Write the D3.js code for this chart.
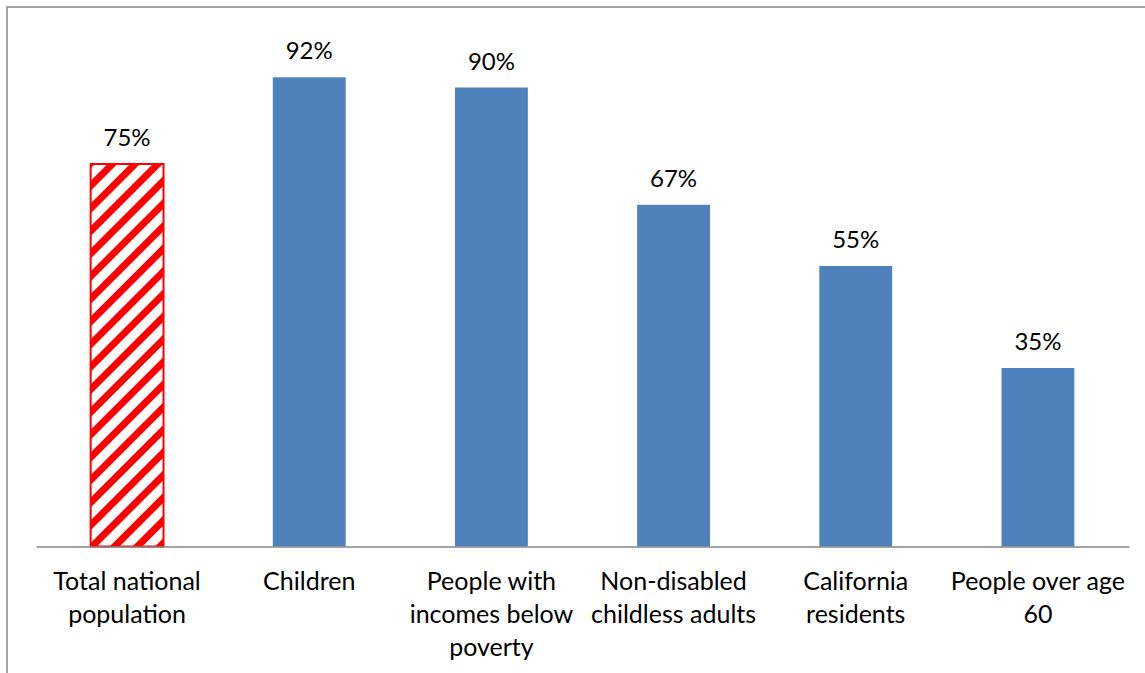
<!DOCTYPE html>
<html>
<head>
<meta charset="utf-8">
<script src="https://cdn.jsdelivr.net/npm/d3@7"></script>
<style>
  body { margin: 0; background: #fff; }
  svg { display: block; }
</style>
</head>
<body>
<div id="chart"></div>
<script>
// data
var categories = ["Total national population", "Children", "People with incomes below poverty",
  "Non-disabled childless adults", "California residents", "People over age 60"];
var tickLines = [
  ["Total national", "population"],
  ["Children"],
  ["People with", "incomes below", "poverty"],
  ["Non-disabled", "childless adults"],
  ["California", "residents"],
  ["People over age", "60"]
];
var values = [75, 92, 90, 67, 55, 35];
var hatched = [true, false, false, false, false, false];

const width = 1145
const height = 673
const fontFam = "Lato, 'Open Sans', sans-serif"

const svg = d3.select("#chart")
  .append("svg")
  .attr("width", width)
  .attr("height", height)

// hatch pattern for the total bar
const defs = svg.append("defs")
defs.append("pattern")
  .attr("id", "hatch")
  .attr("patternUnits", "userSpaceOnUse")
  .attr("width", 16)
  .attr("height", 16)
  .attr("patternTransform", "rotate(45)")
  .call(p => {
    p.append("rect").attr("width", 16).attr("height", 16).attr("fill", "#fff")
    p.append("rect").attr("width", 7).attr("height", 16).attr("fill", "#ff0000")
  })

// outer frame (runs off the page to the right and bottom)
svg.append("rect")
  .attr("x", 7)
  .attr("y", 7)
  .attr("width", 1300)
  .attr("height", 800)
  .attr("fill", "none")
  .attr("stroke", "#868686")
  .attr("stroke-width", 1.5)

const x = d3.scaleBand()
  .domain(categories)
  .range([36, 1129])
  .paddingInner(0.6)
  .paddingOuter(0.3)

const y = d3.scaleLinear()
  .domain([0, 100])
  .range([546.5, 36.5])

const data = categories.map((c, i) => ({cat: c, v: values[i], hatch: hatched[i], lines: tickLines[i]}))

// bars
svg.selectAll("rect.bar")
  .data(data)
  .join("rect")
  .attr("class", "bar")
  .attr("x", d => x(d.cat))
  .attr("y", d => y(d.v))
  .attr("width", x.bandwidth())
  .attr("height", d => y(0) - y(d.v))
  .attr("fill", d => d.hatch ? "url(#hatch)" : "#4f81bd")
  .attr("stroke", d => d.hatch ? "#ff0000" : "none")
  .attr("stroke-width", 2)

// value labels
svg.selectAll("text.val")
  .data(data)
  .join("text")
  .attr("class", "val")
  .attr("x", d => x(d.cat) + x.bandwidth() / 2)
  .attr("y", d => y(d.v) - 18)
  .attr("text-anchor", "middle")
  .style("font-family", fontFam)
  .style("font-size", "24px")
  .attr("fill", "#000")
  .text(d => d.v + "%")

// x axis line
const xAxis = svg.append("g")
  .attr("transform", `translate(0,${y(0)})`)
  .call(d3.axisBottom(x).tickSize(0).tickFormat(""))
xAxis.select(".domain").attr("stroke", "#868686").attr("stroke-width", 1.5)

// category labels (wrapped)
const lbl = svg.selectAll("text.cat")
  .data(data)
  .join("text")
  .attr("class", "cat")
  .attr("text-anchor", "middle")
  .style("font-family", fontFam)
  .style("font-size", "25px")
  .attr("fill", "#000")
lbl.selectAll("tspan")
  .data(d => d.lines.map(l => ({l: l, cx: x(d.cat) + x.bandwidth() / 2})))
  .join("tspan")
  .attr("x", d => d.cx)
  .attr("y", (d, i) => 590 + i * 33)
  .text(d => d.l)
</script>
</body>
</html>
